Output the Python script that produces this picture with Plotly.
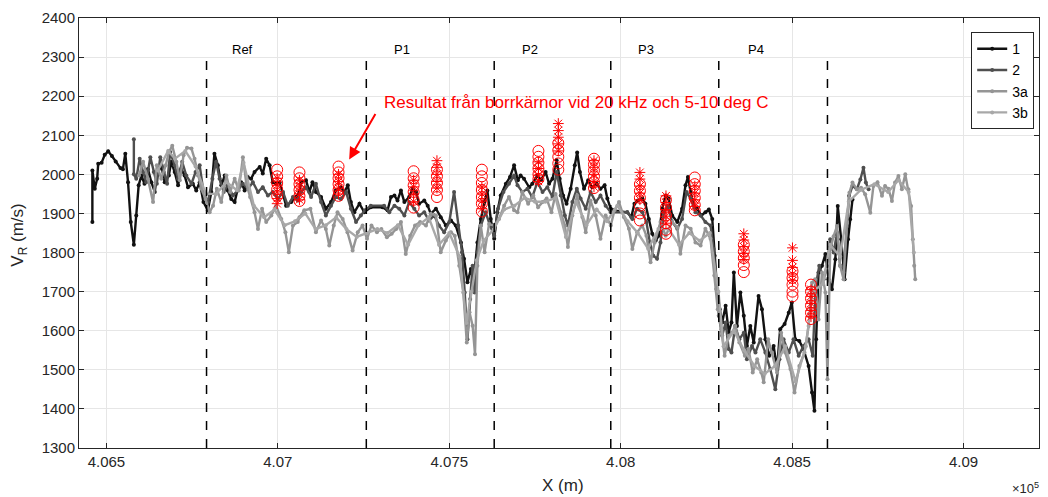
import plotly.graph_objects as go

# ---------------- data ----------------
s1_x = [406459,406459,406466,406473,406476,406486,406495,406505,406516,406527,406541,406548,406555,406563,406571,406580,406587,406594,
        406602,406611,406621,406631,406641,406647,406660,406670,406682,406689,406699,406709,406718,406728,406738,406752,406762,406772,406783,406796,406806,406815,406825,406835,406845,406854,406864,406874,406883,406893,406903,406912,406922,406932,406947,406956,406966,406976,406985,406995,407005,407015,407024,407039,407053,407063,
        407068,407082,407092,407101,407111,407126,407140,407155,407169,407184,407194,407204,407213,407223,407238,407252,407271,407305,407320,407330,407340,407349,407359,407369,407383,407393,407403,407412,407427,407437,407446,407461,407475,407490,407505,407519,407534,407543,407553,407563,407571,407582,407592,407602,407611,407621,407631,407640,407650,407665,407677,407689,407700,
        407708,407718,407733,407742,407757,407767,407781,407791,407801,407813,407822,407832,407842,407854,407866,407873,407881,407893,407905,407917,407930,407941,407953,407961,407971,407980,408019,408031,408040,408050,408063,408072,408082,408092,408102,408111,408121,408131,408140,408150,408165,408179,408189,408196,408204,408213,408223,408235,408247,408257,408267,408274,408281,408289,408296,408306,408315,
        408323,408330,408339,408349,408359,408368,408378,408388,408402,408412,408422,408433,408446,408456,408465,408478,408490,408499,408509,408521,408533,408548,408558,408565,408570,408577,408587,408597,408606,408616,408626,408633,408643,408653,408663,408669,408676]
s1_y = [1878,2010,1963,1989,2027,2030,2050,2059,2047,2033,2016,2013,2053,1980,1878,1820,1895,1972,
        1997,1976,2014,1980,1955,1997,2023,1980,1997,2032,2006,1972,2014,1997,1967,1976,1959,1980,1929,1908,1955,2053,2023,1972,1997,1959,1937,1929,1963,1980,1959,1993,1989,2006,2019,2002,2040,2023,1980,1976,1980,1950,1920,1929,1942,1955,
        1980,1985,1955,1980,1955,1942,1912,1929,1959,1967,1955,1972,1929,1903,1925,1903,1916,1916,1908,1942,1946,1933,1959,1929,1942,1963,1955,1925,1933,1920,1899,1912,1890,1869,1882,1869,1826,1784,1724,1758,1724,1826,1886,1929,1959,1886,1835,1903,1946,1976,1993,2023,1985,
        1997,1989,1967,1976,1997,1985,2006,1976,1989,2036,1989,1946,1925,1963,2023,2056,2006,1963,1985,1967,1976,1963,1972,1938,1912,1908,1903,1891,1925,1933,1938,1925,1886,1848,1831,1843,1912,1946,1938,1895,1878,1912,1972,1993,1955,1920,1912,1895,1903,1910,1886,1792,1707,1655,1621,1664,1596,
        1621,1749,1612,1698,1638,1561,1612,1570,1689,1655,1578,1536,1561,1502,1604,1617,1646,1672,1578,1574,1553,1510,1442,1395,1578,1749,1766,1796,1732,1706,1783,1919,1834,1732,1834,1885,1936]

s2_x = [406580,406580,406587,406597,406607,406616,406628,406638,406647,406657,406667,406677,406686,406699,406709,406721,406733,406748,406760,406772,406783,406796,406809,406820,406830,406842,406854,406869,406883,406898,406913,406927,406942,406956,406971,406985,407000,407015,407029,407044,407058,
        407068,407082,407097,407111,407126,407140,407155,407169,407184,407199,407213,407228,407242,407254,407271,407310,407325,407340,407354,407369,407383,407398,407412,407427,407441,407456,407470,407485,407500,407514,407526,407537,407545,407553,407561,407568,407574,407582,407592,407606,407619,407631,407642,407658,407674,407689,
        407699,407713,407728,407742,407757,407772,407786,407801,407813,407825,407837,407846,407859,407872,407883,407898,407912,407927,407941,407956,407971,408019,408034,408048,408063,408075,408085,408095,408106,408116,408126,408137,408150,408165,408179,408192,408204,408218,408233,408247,408262,408271,408279,408286,408296,408306,408315,
        408323,408334,408346,408359,408368,408383,408393,408407,408422,408436,408451,408463,408475,408490,408504,408519,408533,408548,408560,408569,408579,408592,408601,408611,408621,408631,408640,408650,408660,408666,408676,408689,408699,408708,408715,408723]
s2_y = [2090,2000,1989,2040,2006,1980,2044,2006,1976,2044,2006,1976,2057,2023,1989,2032,1997,1976,2006,2023,1955,1929,1989,2032,1989,1955,1972,1946,1959,1976,1963,1980,1955,1967,1946,1955,1937,1955,1920,1942,1933,
        1955,1967,1942,1976,1929,1895,1920,1942,1937,1955,1912,1878,1895,1908,1920,1920,1903,1920,1912,1895,1929,1912,1895,1903,1882,1895,1869,1852,1878,1955,1869,1801,1698,1578,1681,1766,1698,1801,1869,1903,1869,1843,1912,1955,1976,1997,
        1972,1955,1963,1942,1980,1955,1967,1942,2006,1946,1895,1869,1929,1963,1938,1912,1955,1929,1946,1920,1903,1903,1886,1912,1903,1878,1826,1792,1784,1826,1903,1920,1878,1861,1886,1955,1938,1903,1895,1878,1869,1809,1707,1638,1587,1621,1553,
        1544,1612,1578,1595,1527,1561,1544,1578,1544,1502,1450,1527,1578,1544,1578,1536,1561,1578,1536,1715,1766,1732,1766,1834,1800,1851,1766,1749,1868,1945,1970,1962,1987,2017,1979,1962]

s3a_x = [406595,406607,406621,406636,406647,406660,406673,406682,406692,406704,406714,406725,406735,406748,406757,406767,406777,406789,406801,406811,406822,406835,406850,406861,406874,406886,406898,406908,406919,406932,406942,406954,406966,406981,406995,407010,407022,407032,407044,407058,
         407063,407077,407095,407111,407126,407140,407150,407163,407174,407189,407203,407218,407233,407247,407260,407273,407289,407302,407318,407332,407345,407359,407373,407386,407400,407415,407432,407446,407461,407475,407490,407505,407516,407529,407541,407551,407559,407568,407575,407582,407592,407603,407616,407631,407645,407660,407674,407689,
         407699,407713,407730,407745,407759,407772,407784,407798,407810,407825,407837,407846,407859,407873,407888,407898,407912,407927,407941,407956,407971,407982,407995,408009,408024,408034,408048,408063,408075,408087,408099,408116,408131,408150,408165,408174,408189,408204,408218,408233,408247,408262,408273,408283,408293,408303,408315,
         408325,408334,408346,408362,408373,408385,408398,408410,408417,408430,408441,408456,408468,408480,408495,408507,408521,408536,408548,408558,408567,408577,408587,408597,408603,408611,408621,408631,408640,408650,408660,408667,408676,408689,408701,408713,408728,408737,408749,408762,408771,408781,408791,408800,408810,408820,408830,408839,408847,408852,408856,408859]
s3a_y = [1997,2032,1989,1929,2023,1989,2023,2057,2073,2032,1985,2049,2068,2066,2040,1997,1963,1937,1903,1920,1963,1929,1997,1955,1989,1959,2044,1976,1942,1903,1860,1912,1878,1895,1920,1886,1852,1801,1869,1878,
         1890,1908,1912,1852,1882,1860,1818,1869,1903,1886,1852,1805,1852,1869,1835,1869,1852,1860,1839,1848,1860,1878,1796,1843,1869,1878,1869,1899,1895,1801,1831,1852,1843,1766,1698,1570,1647,1613,1540,1766,1869,1801,1873,1869,1886,1920,1942,1908,
         1903,1955,1925,1946,1916,1929,1938,1903,1950,1903,1869,1814,1895,1946,1891,1852,1933,1895,1835,1895,1869,1908,1929,1891,1861,1809,1852,1869,1843,1775,1826,1878,1843,1878,1865,1797,1869,1861,1826,1818,1861,1835,1741,1655,1604,1536,1587,
         1595,1612,1570,1536,1553,1493,1527,1493,1468,1578,1544,1493,1595,1544,1502,1442,1510,1544,1612,1723,1732,1629,1749,1698,1476,1808,1842,1868,1766,1732,1876,1953,1979,1962,1966,1949,1902,1970,1980,1945,1970,1963,1932,1979,1996,1962,2000,1962,1919,1834,1766,1732]

s3b_x = [406650,406680,406700,406730,406760,406790,406820,406850,406880,406900,406930,406960,406990,407020,407050,407080,407110,407140,407170,407200,407230,407260,407290,407320,407350,407380,407410,407440,407470,407500,407530,407550,407565,407580,407600,407630,407660,407690,407720,407750,407780,407810,407840,407870,407900,407930,407960,407990,408020,408050,408080,408110,408140,408170,408200,408230,408260,408285,408300,408330,408360,408390,408420,408450,408480,408510,408540,408560,408590,408610,408640,408665,408700,408740,408780,408810,408840,408855]
s3b_y = [2010,2060,2040,2060,2020,1950,1950,1980,1960,2030,1920,1890,1910,1870,1880,1900,1860,1870,1890,1860,1840,1850,1860,1850,1870,1820,1870,1890,1820,1850,1790,1620,1700,1780,1830,1860,1910,1920,1940,1930,1930,1940,1840,1930,1870,1910,1880,1920,1880,1850,1810,1860,1860,1820,1850,1830,1850,1700,1560,1600,1550,1510,1490,1510,1560,1470,1560,1700,1720,1820,1790,1930,1960,1975,1955,1985,1955,1800]

# core sample results (red): x position of each stack, circle and asterisk values
core_x = [406998,407063,407177,407396,407464,407595,407760,407818,407922,408056,408132,408216,408359,408501,408555]
core_circ = [[2012,1995,1978,1962,1945],
             [2005,1990,1975,1960,1945,1932],
             [2020,2005,1990,1975,1960,1945],
             [2008,1990,1972,1955,1935,1915],
             [2012,1995,1978,1960,1942],
             [2012,1995,1978,1960,1942,1925,1905],
             [2060,2045,2030,2015,2000,1988],
             [2080,2062,2045,2028,2012],
             [2040,2025,2010,1995,1980,1965],
             [1975,1958,1940,1920,1900,1882],
             [1935,1915,1895,1875,1858,1848],
             [1992,1975,1958,1940,1922,1908],
             [1820,1803,1786,1768,1750],
             [1752,1735,1718,1700,1688],
             [1718,1700,1682,1664,1646,1630]]
core_star = [[1990,1972,1955,1938,1925],
             [1985,1968,1950,1935],
             [2000,1982,1965,1950],
             [1985,1968,1950,1930],
             [2035,2018,2000,1982,1965],
             [1968,1950,1932,1912],
             [2032,2015,1998,1982],
             [2130,2112,2095,2078,2060],
             [2035,2018,2000,1982,1968],
             [2005,1988,1970,1952,1935],
             [1945,1928,1910,1893,1875],
             [1970,1952,1935,1918],
             [1848,1832,1815,1798,1782],
             [1812,1780,1762,1745,1728],
             [1705,1688,1670,1652,1636]]

# section boundaries and labels
section_x = [406792,407258,407631,407971,408286,408603]
section_labels = ["Ref","P1","P2","P3","P4"]
label_x = [406897,407363,407736,408074,408394]

x_ticks = [406500,407000,407500,408000,408500,409000]
x_ticktext = ["4.065","4.07","4.075","4.08","4.085","4.09"]

# ---------------- figure ----------------
FONT = "Liberation Sans, Arial, Helvetica, sans-serif"
fig = go.Figure()

series = [("1", s1_x, s1_y, "#111111"),
          ("2", s2_x, s2_y, "#4f4f4f"),
          ("3a", s3a_x, s3a_y, "#959595"),
          ("3b", s3b_x, s3b_y, "#a8a8a8")]
for name, xs, ys, col in series:
    fig.add_trace(go.Scatter(x=xs, y=ys, name=name, mode="lines+markers",
                             line=dict(color=col, width=2.4),
                             marker=dict(color=col, size=4)))

cx, cy, sx, sy = [], [], [], []
for xv, cl, sl in zip(core_x, core_circ, core_star):
    cx += [xv] * len(cl); cy += cl
    sx += [xv] * len(sl); sy += sl
fig.add_trace(go.Scatter(x=cx, y=cy, mode="markers", showlegend=False,
                         marker=dict(symbol="circle-open", size=11, color="red",
                                     line=dict(color="red", width=1))))
fig.add_trace(go.Scatter(x=sx, y=sy, mode="markers", showlegend=False,
                         marker=dict(symbol="asterisk-open", size=9, color="red",
                                     line=dict(color="red", width=1))))

for xv in section_x:
    fig.add_shape(type="line", x0=xv, x1=xv, y0=1300, y1=2300, xref="x", yref="y",
                  line=dict(color="black", width=1.5, dash="dash"))
for xv, t in zip(label_x, section_labels):
    fig.add_annotation(x=xv, y=2320, text=t, showarrow=False,
                       font=dict(family=FONT, size=13, color="black"))

fig.add_annotation(x=407305, y=2183, text="Resultat från borrkärnor vid 20 kHz och 5-10 deg C",
                   showarrow=False, xanchor="left",
                   font=dict(family=FONT, size=17, color="red"))
fig.add_annotation(x=407208, y=2038, ax=407287, ay=2158, axref="x", ayref="y",
                   text="", showarrow=True, arrowhead=2, arrowsize=1.2,
                   arrowwidth=2, arrowcolor="red")

# axis titles and exponent label
fig.add_annotation(xref="paper", yref="paper", x=0.504, y=-0.088, xanchor="center", yanchor="middle",
                   text="X (m)", showarrow=False,
                   font=dict(family=FONT, size=17, color="#262626"))
fig.add_annotation(xref="paper", yref="paper", x=-0.062, y=0.495, xanchor="center", yanchor="middle",
                   text="V<sub>R</sub> (m/s)", textangle=-90, showarrow=False,
                   font=dict(family=FONT, size=17, color="#262626"))
fig.add_annotation(xref="paper", yref="paper", x=1.002, y=-0.093, xanchor="right", yanchor="middle",
                   text="×10<sup>5</sup>", showarrow=False,
                   font=dict(family=FONT, size=13, color="#262626"))

axis_common = dict(showline=True, linecolor="#262626", linewidth=1, mirror="ticks",
                   ticks="inside", ticklen=5, tickcolor="#262626", automargin=False,
                   showgrid=True, gridcolor="#e6e6e6", zeroline=False,
                   tickfont=dict(family=FONT, size=15, color="#262626"))
fig.update_xaxes(range=[406420, 409220], tickvals=x_ticks, ticktext=x_ticktext, **axis_common)
fig.update_yaxes(range=[1300, 2400], dtick=100, **axis_common)

fig.update_layout(width=1048, height=497, margin=dict(l=79, r=9, t=18, b=49),
                  plot_bgcolor="white", paper_bgcolor="white",
                  legend=dict(x=0.995, y=0.967, xanchor="right", yanchor="top",
                              bgcolor="white", bordercolor="#262626", borderwidth=1,
                              font=dict(family=FONT, size=14, color="black"),
                              tracegroupgap=0, itemwidth=30))

fig.write_html("out.html", config={"displayModeBar": False},
               post_script="document.body.style.margin='0';document.body.style.overflow='hidden';")
